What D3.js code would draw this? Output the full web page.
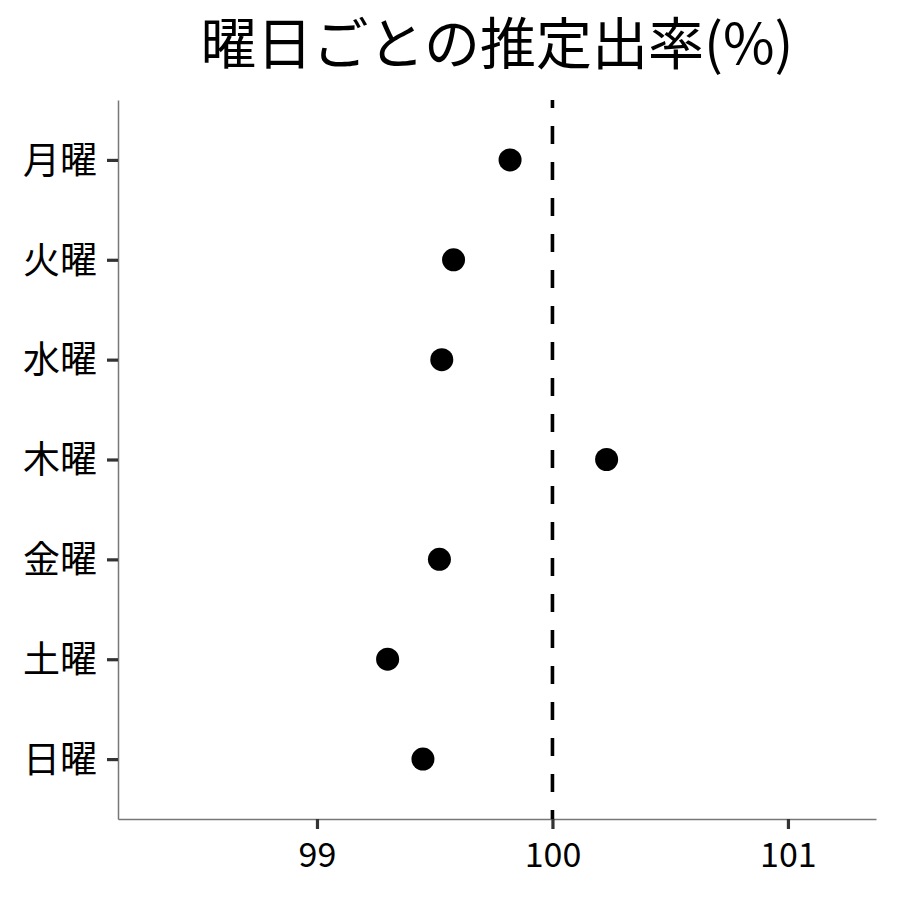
<!DOCTYPE html>
<html>
<head>
<meta charset="utf-8">
<script src="https://cdn.jsdelivr.net/npm/d3@7"></script>
<style>
  body { margin: 0; background: #fff; }
  svg { display: block; font-family: "Noto Sans CJK JP", "Noto Sans", sans-serif; }
</style>
</head>
<body>
<svg width="900" height="900"></svg>
<script>
const days = ["月曜", "火曜", "水曜", "木曜", "金曜", "土曜", "日曜"];
const rates = [99.82, 99.58, 99.53, 100.23, 99.52, 99.30, 99.45];
const xTicks = [99, 100, 101];
const refValue = 100;
const title = "曜日ごとの推定出率(%)";

const svg = d3.select("svg"),
      margin = {top: 100, right: 24, bottom: 81, left: 118},
      width = +svg.attr("width") - margin.left - margin.right,
      height = +svg.attr("height") - margin.top - margin.bottom;

const g = svg.append("g")
  .attr("transform", `translate(${margin.left},${margin.top})`);

const x = d3.scaleLinear().domain([98.155, 101.374]).range([0, width]);
const y = d3.scalePoint().domain(days).range([0, height]).padding(0.6);

// Achsen
const xAxis = g.append("g")
  .attr("transform", `translate(0,${height})`)
  .call(d3.axisBottom(x).tickValues(xTicks).tickSizeInner(10).tickSizeOuter(0)
    .tickPadding(14).tickFormat(d3.format("d")));
const yAxis = g.append("g")
  .call(d3.axisLeft(y).tickSizeInner(11).tickSizeOuter(0).tickPadding(10));

[xAxis, yAxis].forEach(a => {
  a.select(".domain").attr("stroke", "#777").attr("stroke-width", 1.5);
  a.selectAll(".tick line").attr("stroke", "#333").attr("stroke-width", 3.2);
  a.selectAll(".tick text")
    .attr("fill", "#000")
    .style("font-family", "'Noto Sans CJK JP', sans-serif");
});
xAxis.selectAll(".tick text").attr("dy", "0.71em").style("font-size", "34px");
yAxis.selectAll(".tick text").attr("dy", "0.36em").style("font-size", "37px");

// Referenzlinie
g.append("line")
  .attr("x1", x(refValue)).attr("x2", x(refValue))
  .attr("y1", 0).attr("y2", height)
  .attr("stroke", "#000")
  .attr("stroke-width", 3.6)
  .attr("stroke-dasharray", "18,18")
  .attr("stroke-dashoffset", 10);

// Punkte
g.selectAll("circle")
  .data(days.map((d, i) => ({day: d, rate: rates[i]})))
  .enter().append("circle")
  .attr("cx", d => x(d.rate))
  .attr("cy", d => y(d.day))
  .attr("r", 11.5)
  .attr("fill", "#000");

svg.append("text")
  .attr("x", margin.left + width / 2)
  .attr("y", 64)
  .attr("text-anchor", "middle")
  .style("font-size", "56px")
  .text(title);
</script>
</body>
</html>
